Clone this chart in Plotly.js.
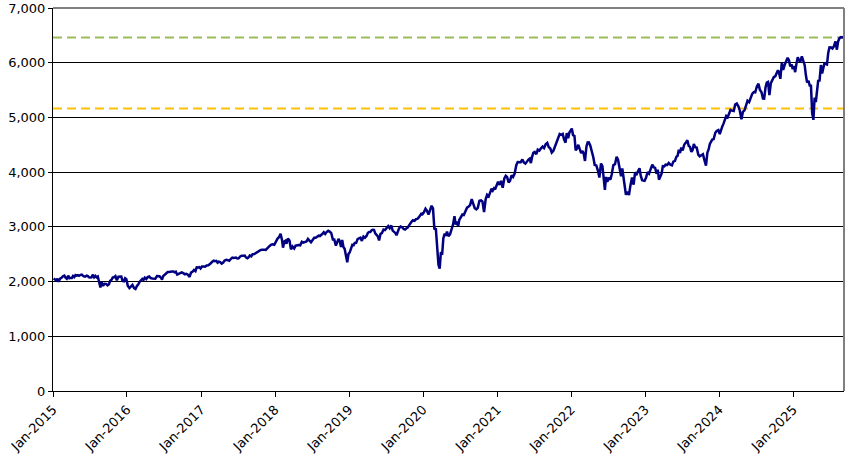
<!DOCTYPE html>
<html>
<head>
<meta charset="utf-8">
<script src="https://cdn.plot.ly/plotly-3.0.1.min.js"></script>
<style>html,body{margin:0;padding:0;background:#fff;}#chart{width:868px;height:465px;}</style>
</head>
<body>
<div id="chart"></div>
<script>
// Approximate weekly closes, grouped by month (Jan..Dec) for each year
const y2015 = [[2058,2044,2019,2051,1995],[2055,2068,2097,2110],[2071,2053,2108,2061,2067],[2066,2102,2081,2117,2108],[2116,2105,2123,2126,2107],[2092,2094,2110,2101,2077],[2076,2077,2126,2079,2104],[2077,2092,1971,1893,1989],[1921,1961,1958,1931],[1951,2014,2033,2075,2079],[2100,2023,2089,2090],[2092,2012,2005,2061,2044]];
const y2016 = [[1922,1880,1907,1940],[1880,1865,1918,1948],[1999,2022,2049,2035,2072],[2047,2081,2092,2065],[2057,2047,2052,2099],[2099,2096,2071,2037,2103],[2130,2161,2175,2174],[2183,2184,2183,2169,2180],[2128,2139,2164,2168],[2153,2133,2141,2126],[2085,2164,2182,2213],[2192,2260,2258,2263,2239]];
const y2017 = [[2277,2275,2271,2295],[2297,2316,2351,2367],[2383,2373,2378,2344,2363],[2355,2329,2349,2384],[2399,2391,2381,2416],[2439,2432,2433,2438,2423],[2425,2459,2473,2472],[2476,2441,2426,2443,2477],[2461,2500,2502,2519],[2549,2553,2575,2581],[2587,2582,2578,2602,2642],[2651,2675,2683,2673]];
const y2018 = [[2743,2786,2810,2873],[2762,2620,2732,2747,2691],[2786,2752,2588,2640],[2604,2656,2670,2669],[2663,2728,2713,2721],[2735,2779,2755,2718],[2759,2801,2801,2818],[2840,2833,2850,2874,2901],[2871,2905,2929,2914],[2885,2767,2767,2658],[2723,2781,2736,2632,2760],[2633,2599,2416,2351,2507]];
const y2019 = [[2532,2596,2671,2665,2706],[2707,2775,2792,2803],[2743,2822,2801,2834],[2892,2907,2905,2939,2946],[2945,2881,2859,2826,2752],[2873,2886,2950,2941],[2990,3013,2976,3025],[2932,2918,2889,2847,2926],[2978,3007,2992,2961],[2952,2970,2986,3022,3067],[3093,3120,3110,3141],[3146,3169,3221,3240,3231]];
const y2020 = [[3265,3330,3295,3226],[3328,3386,3338,2954],[2972,2711,2305,2237,2541],[2489,2790,2875,2837,2912],[2830,2864,2955,3044],[3194,3041,3098,3009,3130],[3185,3224,3216,3271],[3351,3372,3397,3508],[3426,3341,3319,3348],[3477,3483,3465,3270],[3509,3585,3557,3638],[3699,3663,3709,3703,3756]];
const y2021 = [[3824,3768,3841,3714],[3886,3934,3907,3811],[3841,3943,3913,3974],[4128,4185,4180,4181],[4232,4173,4155,4204],[4229,4247,4166,4280,4352],[4369,4327,4411,4395],[4436,4468,4441,4509],[4535,4459,4432,4357],[4391,4471,4544,4605],[4697,4682,4698,4595],[4538,4712,4620,4725,4766]];
const y2022 = [[4796,4677,4662,4398,4431],[4500,4418,4349,4385],[4329,4204,4463,4543,4546],[4488,4392,4272,4132],[4123,4024,3901,4158],[4109,3901,3675,3912,3825],[3899,3863,3962,4130],[4145,4280,4228,4057],[3924,4067,3874,3693,3586],[3640,3583,3753,3901],[3771,3993,3965,4026],[4071,3934,3852,3845,3840]];
const y2023 = [[3895,3999,3972,4070],[4136,4090,4079,3970],[4045,3862,3917,3971,4109],[4105,4137,4133,4169],[4136,4124,4192,4205],[4282,4299,4410,4348,4450],[4399,4505,4536,4582],[4478,4464,4370,4406,4516],[4457,4450,4320,4288],[4308,4327,4224,4117],[4358,4415,4514,4559,4595],[4604,4719,4754,4770]];
const y2024 = [[4697,4784,4840,4891,4959],[5027,5006,5088,5137],[5124,5117,5234,5254],[5204,5123,4967,5100],[5128,5223,5304,5278],[5347,5431,5465,5460],[5567,5615,5505,5459],[5346,5344,5554,5635,5648],[5408,5626,5703,5738],[5751,5815,5864,5808,5705],[5995,5870,5969,6032],[6090,6051,5931,5971,5882]];
const y2025 = [[5942,5827,5997,6101,6041],[6026,6115,6013,5955],[5770,5639,5667,5581,5580],[5074,4955,5363,5282,5525],[5686,5659,5958,5803,5912],[6000,5977,5967,6173,6279],[6280,6260,6297,6389],[6238,6389,6450,6466,6460],[6482]];
const years = [2015,2016,2017,2018,2019,2020,2021,2022,2023,2024,2025];
const yearData = [y2015,y2016,y2017,y2018,y2019,y2020,y2021,y2022,y2023,y2024,y2025];

// Reference levels
const upperLevel = 6460;
const lowerLevel = 5164;

const xDates = [], yVals = [];
yearData.forEach((yd, yi) => {
  const yr = years[yi];
  yd.forEach((vals, mi) => {
    const dim = new Date(yr, mi + 1, 0).getDate();
    vals.forEach((v, i) => {
      const day = Math.min(dim, Math.max(1, Math.round(1 + (i + 0.5) * dim / vals.length)));
      xDates.push(`${yr}-${String(mi+1).padStart(2,'0')}-${String(day).padStart(2,'0')}`);
      yVals.push(v);
    });
  });
});

const font = {family: 'Tahoma, "DejaVu Sans", Verdana, sans-serif', size: 13, color: '#000'};

Plotly.newPlot('chart', [{
  x: xDates, y: yVals, type: 'scatter', mode: 'lines',
  line: {color: '#000080', width: 2.5}, hoverinfo: 'skip'
}], {
  width: 868, height: 465,
  margin: {l: 53, r: 24, t: 8, b: 74},
  paper_bgcolor: '#fff', plot_bgcolor: '#fff',
  showlegend: false,
  font: font,
  xaxis: {
    type: 'date', range: ['2015-01-01', '2025-09-08'],
    tick0: '2015-01-01', dtick: 'M12', tickformat: '%b-%Y', tickangle: -45,
    showgrid: false, zeroline: false, showline: true, linecolor: '#000', linewidth: 1,
    ticks: 'outside', ticklen: 5, tickcolor: '#000', tickfont: font
  },
  yaxis: {
    range: [0, 7000], dtick: 1000, tickformat: ',d',
    showgrid: true, gridcolor: '#000', gridwidth: 1, zeroline: false,
    showline: true, linecolor: '#000', linewidth: 1,
    ticks: 'outside', ticklen: 4, tickcolor: '#000', tickfont: font
  },
  shapes: [
    {type: 'line', xref: 'paper', yref: 'y', x0: 0, x1: 1, y0: upperLevel, y1: upperLevel, line: {color: '#9BBB59', width: 2, dash: '9px,5px'}, layer: 'below'},
    {type: 'line', xref: 'paper', yref: 'y', x0: 0, x1: 1, y0: lowerLevel, y1: lowerLevel, line: {color: '#FFC000', width: 2, dash: '9px,5px'}, layer: 'below'},
    {type: 'line', xref: 'paper', yref: 'paper', x0: 0, x1: 1, y0: 1, y1: 1, line: {color: '#808080', width: 2}, layer: 'above'},
    {type: 'line', xref: 'paper', yref: 'paper', x0: 1, x1: 1, y0: 0, y1: 1, line: {color: '#808080', width: 2}, layer: 'above'}
  ]
}, {staticPlot: true});
</script>
</body>
</html>
